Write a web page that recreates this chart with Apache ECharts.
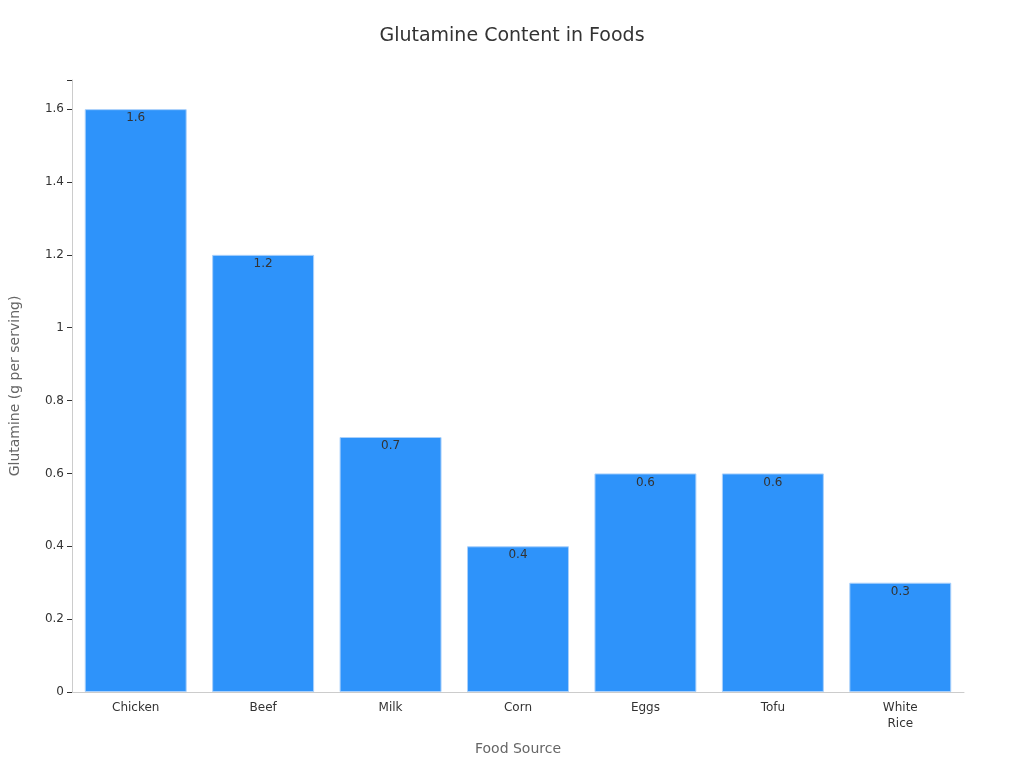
<!DOCTYPE html>
<html>
<head>
<meta charset="UTF-8">
<script src="https://cdn.jsdelivr.net/npm/echarts@6/dist/echarts.min.js"></script>
<style>html,body{margin:0;padding:0;background:#fff}#main{width:1024px;height:768px}</style>
</head>
<body>
<div id="main"></div>
<script>
var foods = ['Chicken', 'Beef', 'Milk', 'Corn', 'Eggs', 'Tofu', 'White\nRice'];
var glutamine = [1.6, 1.2, 0.7, 0.4, 0.6, 0.6, 0.3];

var chart = echarts.init(document.getElementById('main'));
chart.setOption({
	textStyle: { fontFamily: 'DejaVu Sans' },
	title: {
		text: 'Glutamine Content in Foods',
		left: 'center',
		top: 22,
		textStyle: { fontSize: 19, fontWeight: 'normal', color: '#333' }
	},
	grid: { left: 64, right: 60, top: 80, bottom: 76 },
	xAxis: {
		type: 'category',
		data: foods,
		name: 'Food Source',
		nameLocation: 'middle',
		nameGap: 50,
		nameTextStyle: { fontSize: 14, color: '#666' },
		axisLine: { lineStyle: { color: '#ccc' } },
		axisTick: { show: false },
		axisLabel: { color: '#333', fontSize: 12, lineHeight: 16 }
	},
	yAxis: {
		type: 'value',
		min: 0,
		max: 1.68,
		interval: 0.2,
		name: 'Glutamine (g per serving)',
		nameLocation: 'middle',
		nameGap: 50,
		nameTextStyle: { fontSize: 14, color: '#666' },
		axisLine: { show: true, lineStyle: { color: '#ccc' } },
		axisTick: { show: true, lineStyle: { color: '#333' } },
		splitLine: { show: false },
		axisLabel: {
			color: '#333', fontSize: 12,
			formatter: function (v) {
				var r = Math.round(v * 10) / 10;
				return Math.abs(r * 5 - Math.round(r * 5)) < 1e-6 && v <= 1.6 + 1e-6 ? String(r) : '';
			}
		}
	},
	series: [{
		type: 'bar',
		data: glutamine,
		barCategoryGap: '20%',
		itemStyle: { color: '#2e93fa', borderColor: '#a9d0fb', borderWidth: 1 },
		label: { show: true, position: 'insideTop', color: '#333', fontSize: 12, offset: [0, -2] }
	}]
});
</script>
</body>
</html>
